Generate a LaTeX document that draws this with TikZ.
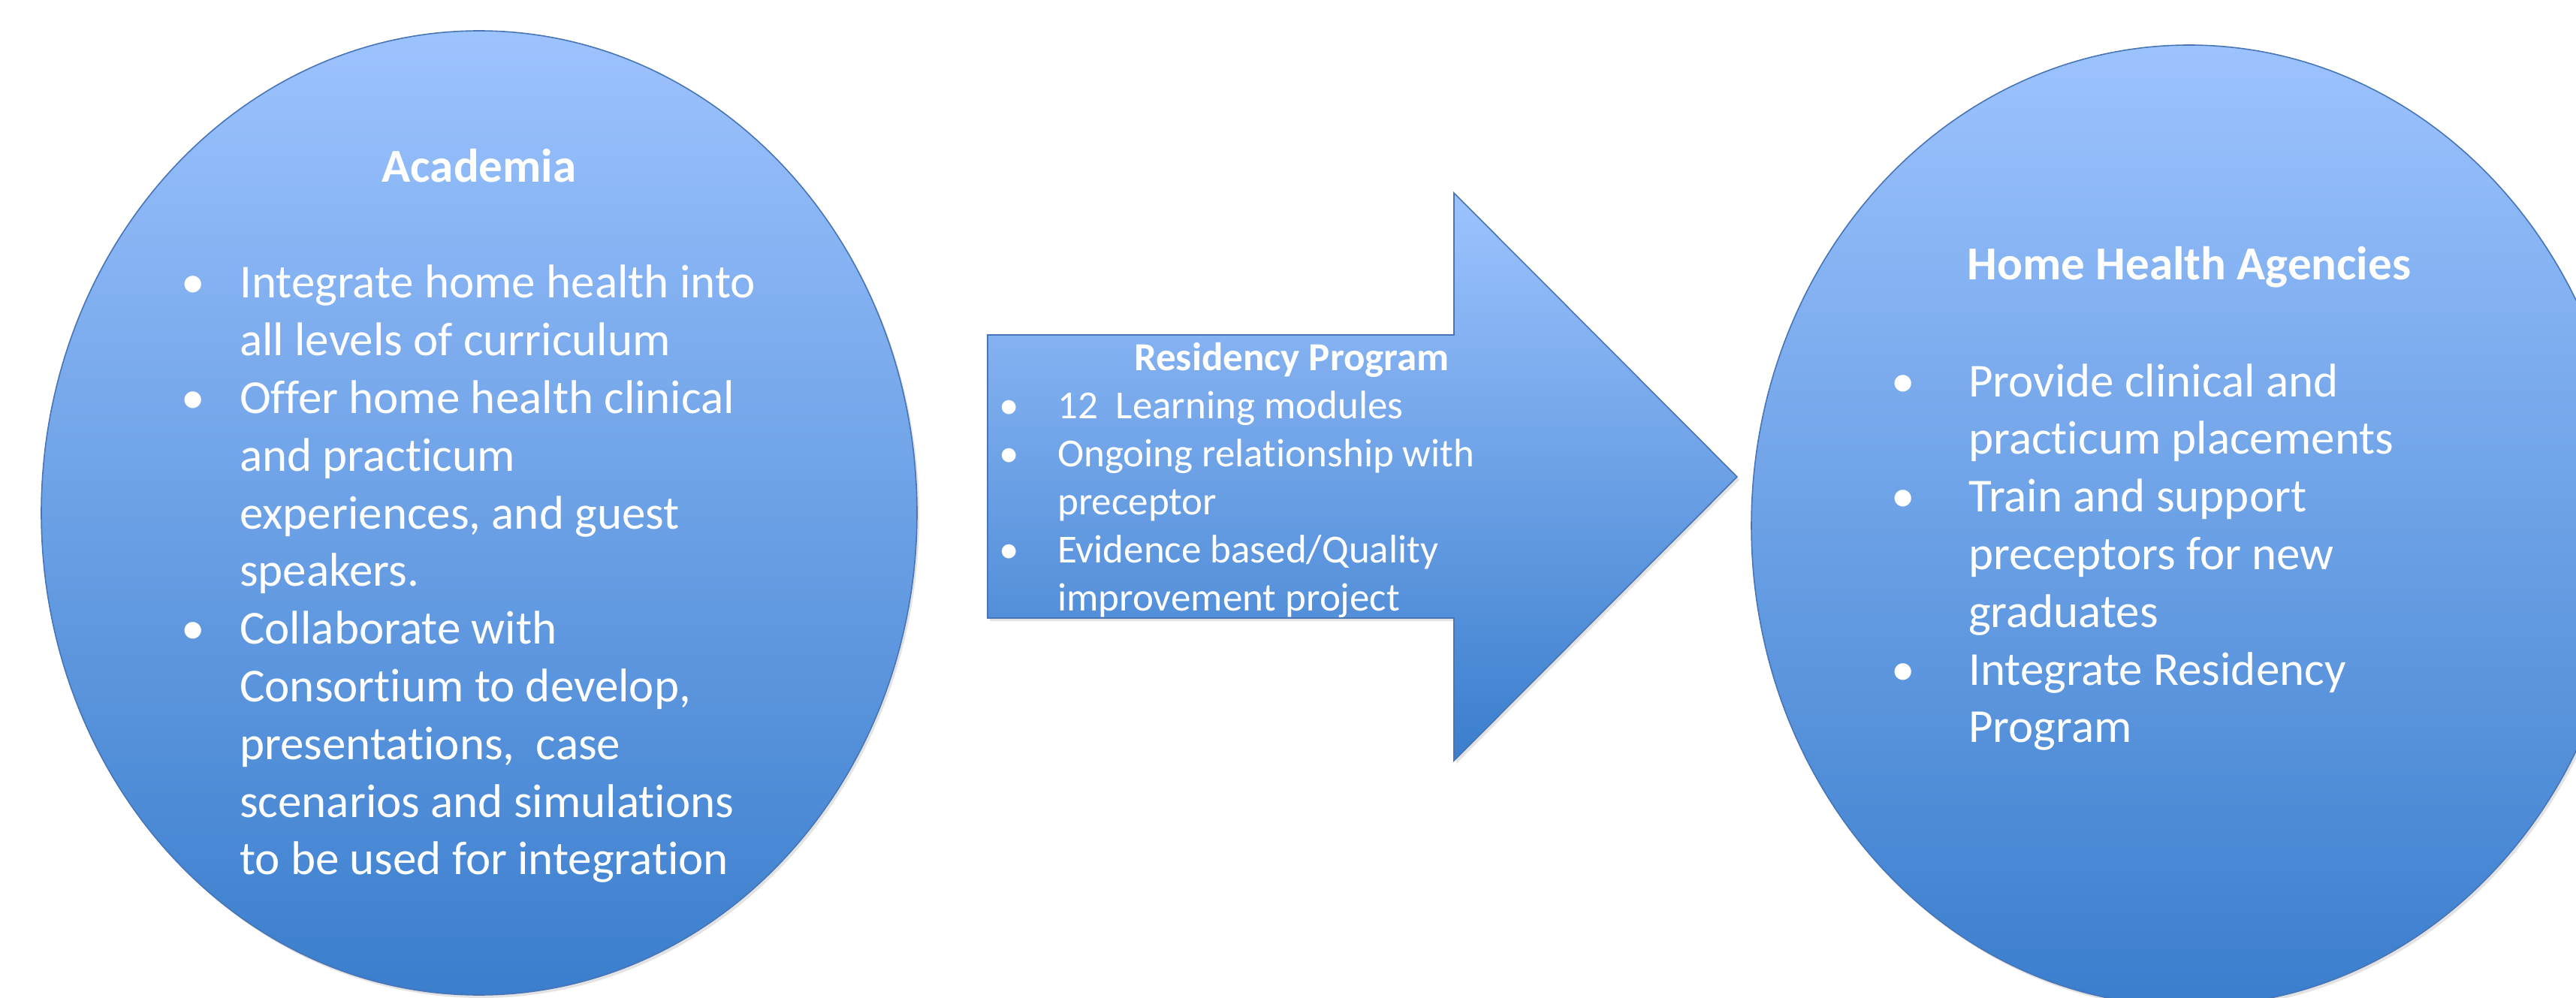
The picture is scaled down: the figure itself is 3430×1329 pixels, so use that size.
\documentclass[tikz,border=0pt]{standalone}
\usepackage{fontspec}
\setmainfont{Carlito}[Ligatures=NoCommon, RawFeature=-liga]
\usetikzlibrary{shapes.geometric,shadows}

\definecolor{shadeTop}{RGB}{157,195,254}
\definecolor{shadeBottom}{RGB}{58,126,205}
\definecolor{rimBlue}{RGB}{72,117,182}

% a bullet centred on the left edge of its column
\newcommand{\itemdot}{\makebox[0pt]{\textbullet}}

\begin{document}
\begin{tikzpicture}[x=1pt, y=-1pt,
  blob/.style={draw=rimBlue, line width=1.6pt,
    top color=shadeTop, bottom color=shadeBottom,
    drop shadow={opacity=0.22, shadow xshift=3pt, shadow yshift=-4pt}},
  oval/.style={blob, ellipse, inner sep=0pt, minimum width=1166pt},
  bigtext/.style={text=white, inner sep=0pt, font=\fontsize{63}{76.8}\selectfont},
  smalltext/.style={text=white, inner sep=0pt, font=\fontsize{53}{64}\selectfont}
]
\useasboundingbox (0,0) rectangle (3430,1329);
\clip (0,0) rectangle (3430,1329);

% the two partners
\node[oval, minimum height=1284pt] (acad) at (638,683) {};
\node[oval, minimum height=1280pt] (hha) at (2915,700) {};

% the residency arrow between them
\path[blob] (1315,446) coordinate (tailtop) -- (1936,446) coordinate (neckTop)
  -- (1936,257) coordinate (barbTop) -- (2313,635) coordinate (tip)
  -- (1936,1013) coordinate (barbBottom) -- (1936,823) coordinate (neckBottom)
  -- (1315,823) coordinate (tailbottom) -- cycle;

% Academia
\node[bigtext, anchor=base] (acadtitle) at (638,243) {\bfseries Academia};
\node[bigtext, anchor=base west] (acadlist) at (257,397) {%
  \begin{tabular}[t]{@{}p{62pt}@{}l@{}}
  \itemdot & Integrate home health into\\
           & all levels of curriculum\\
  \itemdot & Offer home health clinical\\
           & and practicum\\
           & experiences, and guest\\
           & speakers.\\
  \itemdot & Collaborate with\\
           & Consortium to develop,\\
           & presentations,\ \ case\\
           & scenarios and simulations\\
           & to be used for integration
  \end{tabular}};

% Residency Program
\node[smalltext, anchor=base] (restitle) at (1720,493) {\bfseries Residency Program};
\node[smalltext, anchor=base west] (reslist) at (1343,557) {%
  \begin{tabular}[t]{@{}p{65pt}@{}l@{}}
  \itemdot & 12\ \ Learning modules\\
  \itemdot & Ongoing relationship with\\
           & preceptor\\
  \itemdot & Evidence based/Quality\\
           & improvement project
  \end{tabular}};

% Home Health Agencies
\node[bigtext, anchor=base] (hhatitle) at (2915,373) {\bfseries Home Health Agencies};
\node[bigtext, anchor=base west] (hhalist) at (2534,528) {%
  \begin{tabular}[t]{@{}p{87pt}@{}l@{}}
  \itemdot & Provide clinical and\\
           & practicum placements\\
  \itemdot & Train and support\\
           & preceptors for new\\
           & graduates\\
  \itemdot & Integrate Residency\\
           & Program
  \end{tabular}};
\end{tikzpicture}
\end{document}
